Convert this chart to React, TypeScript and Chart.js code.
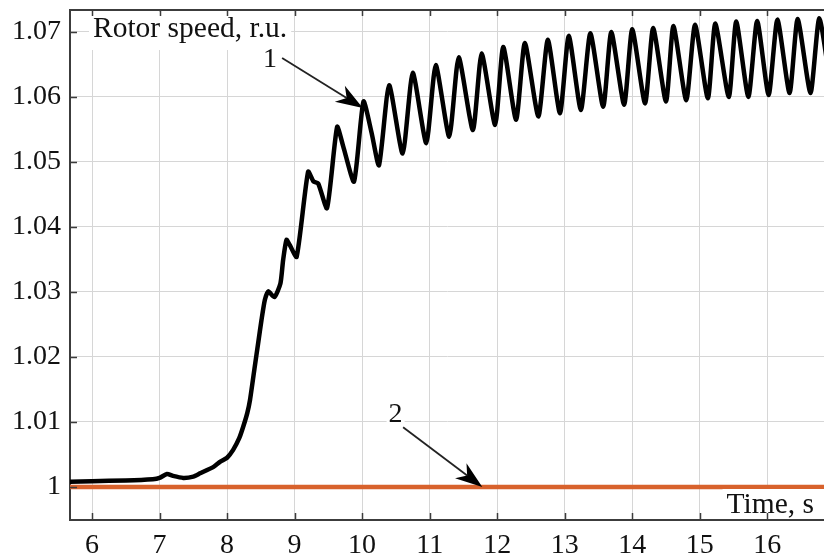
import React, { useEffect, useRef } from 'react';
import { Chart, registerables } from 'chart.js';
Chart.register(...registerables);

const FONT = '"Liberation Serif", "Times New Roman", serif';

// Curve 1: rotor speed (r.u.) vs time (s)
const blackX = [
  5.67, 6.0, 6.5, 6.9, 7.0, 7.11, 7.2, 7.35, 7.5, 7.6, 7.8, 7.9, 8.0, 8.09, 8.18, 8.24, 8.3, 8.34,
  8.41, 8.46, 8.51, 8.56, 8.61, 8.7, 8.79, 8.83, 8.88, 8.93, 9.03, 9.2, 9.28, 9.35, 9.48, 9.63,
  9.72, 9.88, 10.02, 10.14, 10.25, 10.4, 10.6, 10.75, 10.95, 11.09, 11.29, 11.43, 11.64, 11.77,
  11.97, 12.09, 12.28, 12.41, 12.61, 12.75, 12.93, 13.06, 13.24, 13.38, 13.57, 13.69, 13.88, 14.0,
  14.19, 14.31, 14.5, 14.61, 14.8, 14.93, 15.12, 15.23, 15.43, 15.54, 15.72, 15.85, 16.02, 16.15,
  16.33, 16.45, 16.64, 16.77, 16.95,
];
const blackY = [
  1.0008, 1.0009, 1.001, 1.0012, 1.0014, 1.002, 1.0017, 1.0014, 1.0016, 1.0021, 1.0031, 1.0039,
  1.0045, 1.0057, 1.0075, 1.0093, 1.0114, 1.0134, 1.0185, 1.0221, 1.0257, 1.0288, 1.0301, 1.0292,
  1.0313, 1.0349, 1.038, 1.0372, 1.0354, 1.0485, 1.047, 1.0467, 1.0429, 1.0554, 1.0524, 1.047,
  1.0593, 1.0545, 1.0495, 1.0618, 1.0513, 1.0637, 1.0529, 1.0649, 1.0539, 1.0661, 1.0549, 1.0667,
  1.0557, 1.0677, 1.0565, 1.0683, 1.057, 1.0688, 1.0575, 1.0694, 1.058, 1.0698, 1.0585, 1.07,
  1.0588, 1.0704, 1.059, 1.0706, 1.0593, 1.0709, 1.0595, 1.0711, 1.0598, 1.0713, 1.06, 1.0716,
  1.06, 1.0717, 1.0603, 1.0719, 1.0606, 1.072, 1.0606, 1.0721, 1.0608,
];

// Curve 2: constant rotor speed
const orangeX = [5.6, 17.0];
const orangeY = [1.0, 1.0];

const xTicks = [6, 7, 8, 9, 10, 11, 12, 13, 14, 15, 16];
const yTicks = [1.0, 1.01, 1.02, 1.03, 1.04, 1.05, 1.06, 1.07];
const xMin = 5.674;
const xMax = 16.84;
const yMin = 0.99492;
const yMax = 1.07338;

const yTitle = 'Rotor speed, r.u.';
const xTitle = 'Time, s';

// Curve annotations: label, label position, arrow start and arrow tip (data units)
const annLabels = ['1', '2'];
const annTextX = [8.637, 10.496];
const annTextY = [1.0646, 1.01];
const annStartX = [8.815, 10.607];
const annStartY = [1.066, 1.0092];
const annTipX = [10.01, 11.78];
const annTipY = [1.0583, 1.0];

export default function App() {
  const ref = useRef<HTMLCanvasElement>(null);

  useEffect(() => {
    document.body.style.margin = '0';
    const canvas = ref.current!;

    const overlay = {
      id: 'overlay',
      afterDraw(chart: any) {
        const { ctx, chartArea: ca, scales } = chart;
        const xs = scales.x;
        const ys = scales.y;
        ctx.save();
        ctx.textBaseline = 'alphabetic';

        // white backgrounds behind titles
        ctx.fillStyle = '#ffffff';
        ctx.font = `29.5px ${FONT}`;
        const tW = ctx.measureText(yTitle).width;
        ctx.fillRect(ca.left + 19, ca.top + 2, tW + 8, 38);
        const xW = ctx.measureText(xTitle).width;
        ctx.fillRect(ca.right - xW - 14, ca.bottom - 31, xW + 14, 28);
        ctx.font = `28px ${FONT}`;
        annLabels.forEach((t, i) => {
          const w = ctx.measureText(t).width;
          const px = xs.getPixelForValue(annTextX[i]);
          const py = ys.getPixelForValue(annTextY[i]);
          ctx.fillRect(px - w / 2 - 2, py - 20, w + 4, 24);
        });

        // top frame line
        ctx.strokeStyle = '#3c3c3c';
        ctx.lineWidth = 2;
        ctx.beginPath();
        ctx.moveTo(ca.left, ca.top);
        ctx.lineTo(ca.right, ca.top);
        ctx.stroke();

        // inward tick marks
        ctx.lineWidth = 1.5;
        ctx.beginPath();
        xTicks.forEach((v) => {
          const px = Math.round(xs.getPixelForValue(v)) + 0.5;
          ctx.moveTo(px, ca.bottom);
          ctx.lineTo(px, ca.bottom - 7);
          ctx.moveTo(px, ca.top);
          ctx.lineTo(px, ca.top + 6);
        });
        yTicks.forEach((v) => {
          const py = Math.round(ys.getPixelForValue(v)) + 0.5;
          ctx.moveTo(ca.left, py);
          ctx.lineTo(ca.left + 7, py);
        });
        ctx.stroke();

        // titles
        ctx.fillStyle = '#111111';
        ctx.font = `29.5px ${FONT}`;
        ctx.textAlign = 'left';
        ctx.fillText(yTitle, ca.left + 23, ca.top + 27);
        ctx.textAlign = 'right';
        ctx.fillText(xTitle, ca.right - 10, ca.bottom - 7);

        // annotation labels and arrows
        ctx.font = `28px ${FONT}`;
        ctx.textAlign = 'center';
        annLabels.forEach((t, i) => {
          const px = xs.getPixelForValue(annTextX[i]);
          const py = ys.getPixelForValue(annTextY[i]);
          ctx.fillStyle = '#111111';
          ctx.fillText(t, px, py);

          const sx = xs.getPixelForValue(annStartX[i]);
          const sy = ys.getPixelForValue(annStartY[i]);
          const tx = xs.getPixelForValue(annTipX[i]);
          const ty = ys.getPixelForValue(annTipY[i]);
          const dx = tx - sx;
          const dy = ty - sy;
          const len = Math.hypot(dx, dy);
          const ux = dx / len;
          const uy = dy / len;
          const nx = -uy;
          const ny = ux;
          const L = 27;
          const W = 9.5;
          const N = 19;
          ctx.strokeStyle = '#222222';
          ctx.lineWidth = 1.8;
          ctx.beginPath();
          ctx.moveTo(sx, sy);
          ctx.lineTo(tx - ux * N, ty - uy * N);
          ctx.stroke();
          ctx.fillStyle = '#000000';
          ctx.beginPath();
          ctx.moveTo(tx, ty);
          ctx.lineTo(tx - ux * L + nx * W, ty - uy * L + ny * W);
          ctx.lineTo(tx - ux * N, ty - uy * N);
          ctx.lineTo(tx - ux * L - nx * W, ty - uy * L - ny * W);
          ctx.closePath();
          ctx.fill();
        });
        ctx.restore();
      },
    };

    const chart = new Chart(canvas, {
      type: 'line',
      data: {
        datasets: [
          {
            label: '2',
            data: orangeX.map((x, i) => ({ x, y: orangeY[i] })),
            borderColor: '#d8622c',
            borderWidth: 4.5,
            pointRadius: 0,
            fill: false,
            order: 0,
          },
          {
            label: '1',
            data: blackX.map((x, i) => ({ x, y: blackY[i] })),
            borderColor: '#000000',
            borderWidth: 4.5,
            borderJoinStyle: 'round',
            borderCapStyle: 'round',
            pointRadius: 0,
            fill: false,
            tension: 0.2,
            order: 1,
          },
        ],
      },
      options: {
        responsive: false,
        animation: false,
        devicePixelRatio: 1,
        layout: { padding: { top: 10, right: 0, bottom: 0, left: 0 } },
        plugins: { legend: { display: false }, tooltip: { enabled: false } },
        scales: {
          x: {
            type: 'linear',
            min: xMin,
            max: xMax,
            afterBuildTicks: (s: any) => {
              s.ticks = xTicks.map((v) => ({ value: v }));
            },
            afterFit: (s: any) => {
              s.height = 40;
              s.paddingLeft = 0;
              s.paddingRight = 0;
            },
            grid: { color: '#d6d6d6', lineWidth: 1, drawTicks: false },
            border: { display: true, color: '#3c3c3c', width: 2 },
            ticks: {
              padding: 9,
              color: '#111111',
              font: { family: FONT, size: 28 },
              maxRotation: 0,
              autoSkip: false,
              callback: (v: any) => String(v),
            },
          },
          y: {
            type: 'linear',
            min: yMin,
            max: yMax,
            afterBuildTicks: (s: any) => {
              s.ticks = yTicks.map((v) => ({ value: v }));
            },
            afterFit: (s: any) => {
              s.width = 70;
              s.paddingTop = 0;
              s.paddingBottom = 0;
            },
            grid: { color: '#d6d6d6', lineWidth: 1, drawTicks: false },
            border: { display: true, color: '#3c3c3c', width: 2 },
            ticks: {
              padding: 9,
              color: '#111111',
              font: { family: FONT, size: 28 },
              autoSkip: false,
              callback: (v: any) => String(+Number(v).toFixed(2)),
            },
          },
        },
      },
      plugins: [overlay],
    } as any);

    return () => chart.destroy();
  }, []);

  return (
    <div style={{ width: 824, height: 560 }}>
      <canvas ref={ref} width={824} height={560} style={{ display: 'block' }} />
    </div>
  );
}
